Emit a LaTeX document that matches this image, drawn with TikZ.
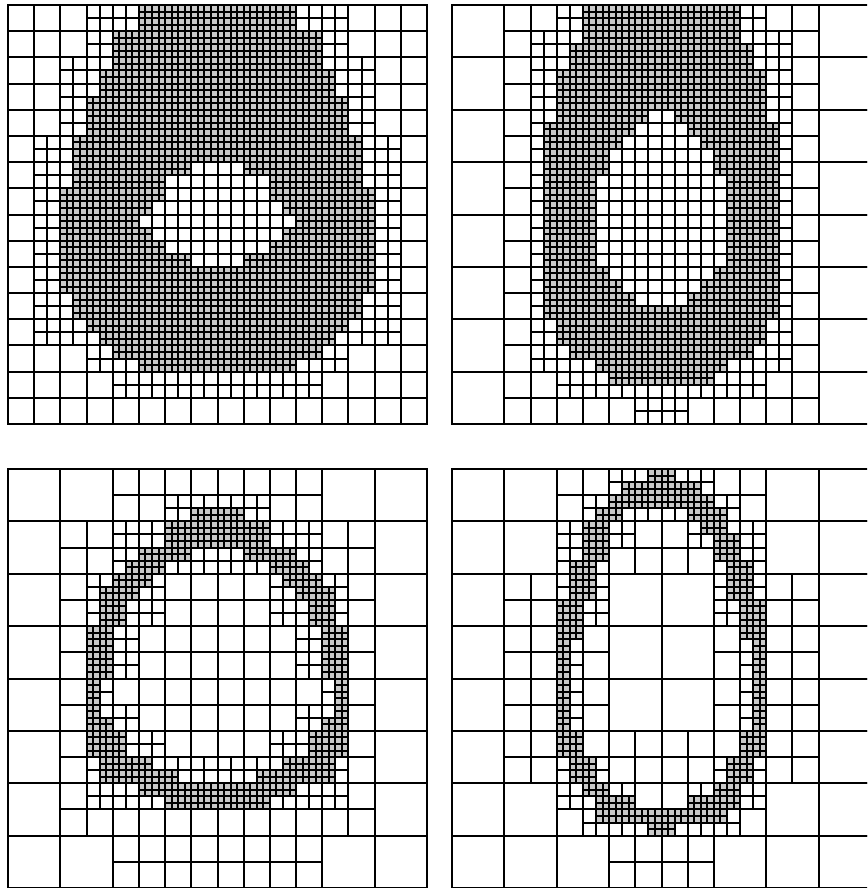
\documentclass[tikz,border=0pt]{standalone}
\tikzset{
  cellbox/.style={draw=black, line width=1.5pt},
  graycell/.style={draw=black, fill=black!21, line width=1.5pt},
  fineline/.style={draw=black, line width=1.3pt}
}
% mark ranges of cells: prefix, row, list a/b
\newcommand\markrange[3]{%
  \foreach \ra/\rb in {#3}{%
    \foreach \cc in {\ra,...,\rb}{%
      \expandafter\gdef\csname #1-#2-\cc\endcsname{}}}}
% type, panel, first row, last row, list
\newcommand\rowsrange[5]{%
  \foreach \rr in {#3,...,#4}{\markrange{#1#2}{\rr}{#5}}}
\def\h{13.09375}
% style, x, y, size  (pixel-snapped square)
\newcommand\drawcell[4]{%
  \pgfmathsetmacro\xa{round(#2)}\pgfmathsetmacro\xb{round(#2+#4)}%
  \pgfmathsetmacro\ya{round(#3)}\pgfmathsetmacro\yb{round(#3+#4)}%
  \path[#1] (\xa,\ya) rectangle (\xb,\yb);}
\newcommand\graysq[2]{%
  \drawcell{graycell}{#1}{#2}{\h}%
  \pgfmathsetmacro\xm{round(#1+\h/2)}\pgfmathsetmacro\ym{round(#2+\h/2)}%
  \path[fineline] (\xm,\ya) -- (\xm,\yb) (\xa,\ym) -- (\xb,\ym);}
\begin{document}
% ---------------- gray 32-grid cells ----------------
% panel 1 (top left)
\rowsrange{G}{1}{0}{1}{10/21}
\rowsrange{G}{1}{2}{4}{8/23}
\rowsrange{G}{1}{5}{6}{7/24}
\rowsrange{G}{1}{7}{9}{6/25}
\rowsrange{G}{1}{10}{11}{5/26}
\rowsrange{G}{1}{12}{12}{5/13,18/26}
\rowsrange{G}{1}{13}{13}{5/11,20/26}
\rowsrange{G}{1}{14}{14}{4/11,20/27}
\rowsrange{G}{1}{15}{15}{4/10,21/27}
\rowsrange{G}{1}{16}{16}{4/9,22/27}
\rowsrange{G}{1}{17}{17}{4/10,21/27}
\rowsrange{G}{1}{18}{18}{4/11,20/27}
\rowsrange{G}{1}{19}{19}{4/13,18/27}
\rowsrange{G}{1}{20}{21}{4/27}
\rowsrange{G}{1}{22}{23}{5/26}
\rowsrange{G}{1}{24}{24}{6/25}
\rowsrange{G}{1}{25}{25}{7/24}
\rowsrange{G}{1}{26}{26}{8/23}
\rowsrange{G}{1}{27}{27}{10/21}
% panel 2 (top right)
\rowsrange{G}{2}{0}{2}{10/21}
\rowsrange{G}{2}{3}{4}{9/22}
\rowsrange{G}{2}{5}{7}{8/23}
\rowsrange{G}{2}{8}{8}{8/14,17/23}
\rowsrange{G}{2}{9}{9}{7/13,18/24}
\rowsrange{G}{2}{10}{10}{7/12,19/24}
\rowsrange{G}{2}{11}{12}{7/11,20/24}
\rowsrange{G}{2}{13}{19}{7/10,21/24}
\rowsrange{G}{2}{20}{20}{7/11,20/24}
\rowsrange{G}{2}{21}{21}{7/12,19/24}
\rowsrange{G}{2}{22}{22}{7/13,18/24}
\rowsrange{G}{2}{23}{23}{7/24}
\rowsrange{G}{2}{24}{25}{8/23}
\rowsrange{G}{2}{26}{26}{9/22}
\rowsrange{G}{2}{27}{27}{11/20}
\rowsrange{G}{2}{28}{28}{12/19}
% panel 3 (bottom left)
\rowsrange{G}{3}{3}{3}{14/17}
\rowsrange{G}{3}{4}{5}{12/19}
\rowsrange{G}{3}{6}{6}{10/13,18/21}
\rowsrange{G}{3}{7}{7}{9/11,20/22}
\rowsrange{G}{3}{8}{8}{8/10,21/23}
\rowsrange{G}{3}{9}{9}{7/9,22/24}
\rowsrange{G}{3}{10}{11}{7/8,23/24}
\rowsrange{G}{3}{12}{15}{6/7,24/25}
\rowsrange{G}{3}{16}{18}{6/6,25/25}
\rowsrange{G}{3}{19}{19}{6/7,24/25}
\rowsrange{G}{3}{20}{21}{6/8,23/25}
\rowsrange{G}{3}{22}{22}{7/10,21/24}
\rowsrange{G}{3}{23}{23}{7/12,19/24}
\rowsrange{G}{3}{24}{24}{10/21}
\rowsrange{G}{3}{25}{25}{12/19}
% panel 4 (bottom right)
\rowsrange{G}{4}{0}{0}{15/16}
\rowsrange{G}{4}{1}{1}{13/18}
\rowsrange{G}{4}{2}{2}{12/19}
\rowsrange{G}{4}{3}{3}{11/12,18/20}
\rowsrange{G}{4}{4}{4}{10/11,19/20}
\rowsrange{G}{4}{5}{6}{10/11,20/21}
\rowsrange{G}{4}{7}{9}{9/10,21/22}
\rowsrange{G}{4}{10}{12}{8/9,22/23}
\rowsrange{G}{4}{13}{19}{8/8,23/23}
\rowsrange{G}{4}{20}{21}{8/9,22/23}
\rowsrange{G}{4}{22}{23}{9/10,21/22}
\rowsrange{G}{4}{24}{24}{10/11,20/21}
\rowsrange{G}{4}{25}{25}{11/13,18/21}
\rowsrange{G}{4}{26}{26}{11/20}
\rowsrange{G}{4}{27}{27}{15/16}
% ---------------- split 16-grid cells ----------------
\rowsrange{S}{1}{0}{1}{3/12}
\rowsrange{S}{1}{2}{4}{2/13}
\rowsrange{S}{1}{5}{12}{1/14}
\rowsrange{S}{1}{13}{13}{3/12}
\rowsrange{S}{1}{14}{14}{4/11}
\rowsrange{S}{2}{0}{0}{4/11}
\rowsrange{S}{2}{1}{13}{3/12}
\rowsrange{S}{2}{14}{14}{4/11}
\rowsrange{S}{2}{15}{15}{7/8}
\rowsrange{S}{3}{1}{1}{6/9}
\rowsrange{S}{3}{2}{3}{4/11}
\rowsrange{S}{3}{4}{5}{3/5,10/12}
\rowsrange{S}{3}{6}{7}{3/4,11/12}
\rowsrange{S}{3}{8}{8}{3/3,12/12}
\rowsrange{S}{3}{9}{9}{3/4,11/12}
\rowsrange{S}{3}{10}{10}{3/5,10/12}
\rowsrange{S}{3}{11}{12}{3/12}
\rowsrange{S}{4}{0}{0}{6/9}
\rowsrange{S}{4}{1}{1}{5/10}
\rowsrange{S}{4}{2}{2}{4/6,9/11}
\rowsrange{S}{4}{3}{5}{4/5,10/11}
\rowsrange{S}{4}{6}{10}{4/4,11/11}
\rowsrange{S}{4}{11}{11}{4/5,10/11}
\rowsrange{S}{4}{12}{12}{4/6,9/11}
\rowsrange{S}{4}{13}{13}{5/10}
% ---------------- split 8-grid cells ----------------
\rowsrange{E}{1}{0}{7}{0/7}
\rowsrange{E}{2}{0}{7}{1/6}
\rowsrange{E}{3}{0}{0}{2/5}
\rowsrange{E}{3}{1}{6}{1/6}
\rowsrange{E}{3}{7}{7}{2/5}
\rowsrange{E}{4}{0}{1}{2/5}
\rowsrange{E}{4}{2}{4}{1/2,5/6}
\rowsrange{E}{4}{5}{5}{1/6}
\rowsrange{E}{4}{6}{6}{2/5}
\rowsrange{E}{4}{7}{7}{3/4}
% ---------------- consistency passes ----------------
\foreach \p in {1,2,3,4}{%
  \foreach \I in {0,...,15}{%
    \foreach \J in {0,...,15}{%
      \foreach \ka in {0,1}{\foreach \kb in {0,1}{%
        \ifcsname G\p-\the\numexpr2*\I+\ka\relax-\the\numexpr2*\J+\kb\relax\endcsname
          \expandafter\gdef\csname S\p-\I-\J\endcsname{}%
        \fi}}}}}
\foreach \p in {1,2,3,4}{%
  \foreach \I in {0,...,7}{%
    \foreach \J in {0,...,7}{%
      \foreach \ka in {0,1}{\foreach \kb in {0,1}{%
        \ifcsname S\p-\the\numexpr2*\I+\ka\relax-\the\numexpr2*\J+\kb\relax\endcsname
          \expandafter\gdef\csname E\p-\I-\J\endcsname{}%
        \fi}}}}}
\begin{tikzpicture}[x=1pt,y=-1pt]
\useasboundingbox (0,0) rectangle (867,888);
\clip (0,0) rectangle (867,888);
\fill[white] (0,0) rectangle (867,888);
\foreach \p/\X/\Y in {1/8/5, 2/452/5, 3/8/469, 4/452/469}{%
  \foreach \I in {0,...,7}{%
    \foreach \J in {0,...,7}{%
      \ifcsname E\p-\I-\J\endcsname
        \foreach \ka in {0,1}{\foreach \kb in {0,1}{%
          \edef\II{\the\numexpr2*\I+\ka\relax}%
          \edef\JJ{\the\numexpr2*\J+\kb\relax}%
          \ifcsname S\p-\II-\JJ\endcsname
            \foreach \kc in {0,1}{\foreach \kd in {0,1}{%
              \edef\ii{\the\numexpr2*\II+\kc\relax}%
              \edef\jj{\the\numexpr2*\JJ+\kd\relax}%
              \ifcsname G\p-\ii-\jj\endcsname
                \graysq{\X+\jj*\h}{\Y+\ii*\h}%
              \else
                \drawcell{cellbox}{\X+\jj*\h}{\Y+\ii*\h}{\h}%
              \fi}}%
          \else
            \drawcell{cellbox}{\X+\JJ*2*\h}{\Y+\II*2*\h}{2*\h}%
          \fi}}%
      \else
        \drawcell{cellbox}{\X+\J*4*\h}{\Y+\I*4*\h}{4*\h}%
      \fi}}}
\end{tikzpicture}
\end{document}
